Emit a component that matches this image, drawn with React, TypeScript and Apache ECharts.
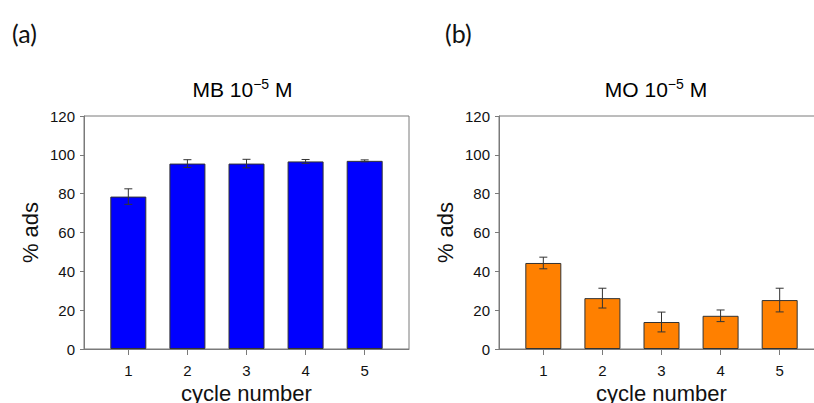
import React, { useEffect, useRef } from "react";
import * as echarts from "echarts";

const categories = [1, 2, 3, 4, 5];
const mbValues = [78.5, 95.5, 95.5, 96.6, 96.9];
const mbErrors = [4.0, 2.0, 2.2, 1.0, 0.5];
const moValues = [44.3, 26.2, 13.9, 17.1, 25.2];
const moErrors = [3.0, 5.1, 5.1, 3.0, 6.1];
const yMin = 0;
const yMax = 120;
const yStep = 20;
const xMin = 0.25;
const xMax = 5.75;

const FONT = "Liberation Sans";
const AXIS_COLOR = "#7a7a7a";
const EDGE = "#333333";

function errorSeries(values: number[], errors: number[], idx: number) {
  return {
    type: "custom",
    xAxisIndex: idx,
    yAxisIndex: idx,
    z: 10,
    data: categories.map((c, i) => [c, values[i] - errors[i], values[i] + errors[i]]),
    encode: { x: 0, y: [1, 2] },
    renderItem: (_params: any, api: any) => {
      const x = api.value(0);
      const lo = api.coord([x, api.value(1)]);
      const hi = api.coord([x, api.value(2)]);
      const hw = 4;
      const style = { stroke: EDGE, lineWidth: 1 };
      return {
        type: "group",
        children: [
          { type: "line", shape: { x1: lo[0], y1: lo[1], x2: hi[0], y2: hi[1] }, style },
          { type: "line", shape: { x1: lo[0] - hw, y1: lo[1], x2: lo[0] + hw, y2: lo[1] }, style },
          { type: "line", shape: { x1: hi[0] - hw, y1: hi[1], x2: hi[0] + hw, y2: hi[1] }, style },
        ],
      };
    },
  };
}

function xAxis(idx: number) {
  return {
    type: "value",
    gridIndex: idx,
    min: xMin,
    max: xMax,
    name: "cycle number",
    nameLocation: "middle",
    nameGap: 31,
    nameTextStyle: { fontFamily: FONT, fontSize: 22, color: "#111", verticalAlign: "top" },
    axisLine: { show: true, lineStyle: { color: AXIS_COLOR, width: 1 } },
    axisTick: { show: true, length: 6, customValues: categories, lineStyle: { color: AXIS_COLOR } },
    axisLabel: { customValues: categories, fontFamily: FONT, fontSize: 15, color: "#111", margin: 14 },
    splitLine: { show: false },
  };
}

function yAxis(idx: number) {
  return {
    type: "value",
    gridIndex: idx,
    min: yMin,
    max: yMax,
    interval: yStep,
    name: "% ads",
    nameLocation: "middle",
    nameGap: 43,
    nameTextStyle: { fontFamily: FONT, fontSize: 22, color: "#111" },
    axisLine: { show: true, lineStyle: { color: AXIS_COLOR, width: 1 } },
    axisTick: { show: true, length: 4, lineStyle: { color: AXIS_COLOR } },
    axisLabel: { fontFamily: FONT, fontSize: 15, color: "#111", margin: 9 },
    splitLine: { show: false },
  };
}

const titleRich = {
  a: { fontFamily: FONT, fontSize: 21, color: "#111", lineHeight: 25 },
  s: { fontFamily: FONT, fontSize: 14, color: "#111", verticalAlign: "top", lineHeight: 14 },
};

const gridBase = {
  top: 116,
  width: 325,
  height: 233,
  show: true,
  borderColor: AXIS_COLOR,
  borderWidth: 1,
  backgroundColor: "transparent",
  containLabel: false,
  outerBoundsMode: "none",
};

export default function App() {
  const ref = useRef<HTMLDivElement>(null);
  useEffect(() => {
    if (!ref.current) return;
    const chart = echarts.init(ref.current, null, { renderer: "svg" });
    chart.setOption({
      animation: false,
      backgroundColor: "#ffffff",
      grid: [
        { ...gridBase, left: 84 },
        { ...gridBase, left: 499 },
      ],
      xAxis: [xAxis(0), xAxis(1)],
      yAxis: [yAxis(0), yAxis(1)],
      series: [
        {
          type: "bar",
          xAxisIndex: 0,
          yAxisIndex: 0,
          barWidth: 36,
          data: categories.map((c, i) => [c, mbValues[i]]),
          itemStyle: { color: "#0000ff", borderColor: EDGE, borderWidth: 1 },
        },
        errorSeries(mbValues, mbErrors, 0),
        {
          type: "bar",
          xAxisIndex: 1,
          yAxisIndex: 1,
          barWidth: 36,
          data: categories.map((c, i) => [c, moValues[i]]),
          itemStyle: { color: "#ff8000", borderColor: EDGE, borderWidth: 1 },
        },
        errorSeries(moValues, moErrors, 1),
      ],
      graphic: [
        { type: "text", x: 12, y: 33, style: { text: "(a)", fontFamily: "Lato", fontSize: 25, fill: "#111", verticalAlign: "middle" } },
        { type: "text", x: 445, y: 33, style: { text: "(b)", fontFamily: "Lato", fontSize: 25, fill: "#111", verticalAlign: "middle" } },
        { type: "text", x: 242.5, y: 89, style: { text: "{a|MB 10}{s|\u22125}{a| M}", rich: titleRich, align: "center", verticalAlign: "middle" } },
        { type: "text", x: 656, y: 89, style: { text: "{a|MO 10}{s|\u22125}{a| M}", rich: titleRich, align: "center", verticalAlign: "middle" } },
      ],
    });
    return () => chart.dispose();
  }, []);
  return <div ref={ref} style={{ position: "absolute", left: 0, top: 0, width: 814, height: 403 }} />;
}
